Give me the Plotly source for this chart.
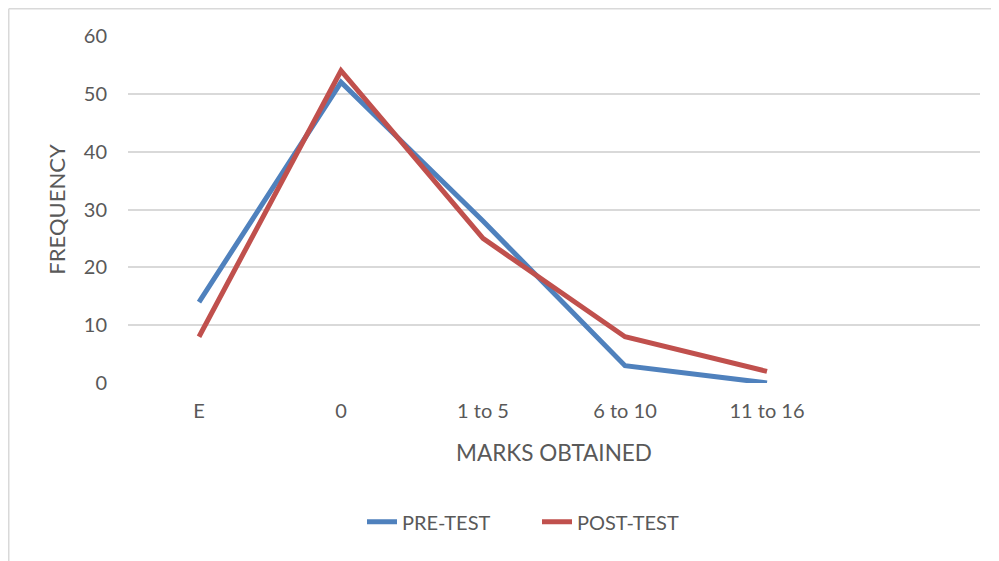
import plotly.graph_objects as go

categories = ["E", "0", "1 to 5", "6 to 10", "11 to 16"]
pre_test = [14, 52, 28, 3, 0]
post_test = [8, 54, 25, 8, 2]

W, H = 999, 561
OFF = 8  # page body margin
L, T = 128 - OFF, 36 - OFF
pw, ph = 852, 347
R, B = W - L - pw, H - T - ph

fnt = "Lato, Calibri, sans-serif"
grey = "#595959"

fig = go.Figure()
fig.add_trace(go.Scatter(x=categories, y=pre_test, name="PRE-TEST", mode="lines",
                         line=dict(color="#4F81BD", width=5)))
fig.add_trace(go.Scatter(x=categories, y=post_test, name="POST-TEST", mode="lines",
                         line=dict(color="#C0504D", width=5)))

fig.update_layout(
    width=W, height=H,
    margin=dict(l=L, r=R, t=T, b=B),
    paper_bgcolor="white", plot_bgcolor="white",
    font=dict(family=fnt, color=grey, size=20),
    showlegend=True,
    legend=dict(orientation="h", x=(362 - 128) / pw, xanchor="left", y=-0.40, yanchor="middle",
                font=dict(size=20, color=grey), entrywidth=130, entrywidthmode="pixels"),
)
fig.update_xaxes(type="category", range=[-0.5, 5.5], showgrid=False, zeroline=False,
                 showline=False, ticks="", ticklabelstandoff=14, tickfont=dict(size=20, color=grey),
                 title=dict(text="MARKS OBTAINED", font=dict(size=22.5, color=grey), standoff=24))
fig.update_yaxes(range=[0, 60], dtick=10, showgrid=True, gridcolor="#D9D9D9", gridwidth=1.5,
                 zeroline=False, showline=False, ticks="", ticklabelstandoff=20,
                 tickfont=dict(size=20, color=grey),
                 title=dict(text="FREQUENCY", font=dict(size=22, color=grey), standoff=12))

# outer chart border (top and left visible in the reference)
x0 = (0.75 - L) / pw
y0 = 1 + (T - 0.75) / ph
fig.add_shape(type="line", xref="paper", yref="paper", x0=x0, x1=(W - L + 5) / pw, y0=y0, y1=y0,
              line=dict(color="#D9D9D9", width=1.5))
fig.add_shape(type="line", xref="paper", yref="paper", x0=x0, x1=x0, y0=y0, y1=-(B + 5) / ph,
              line=dict(color="#D9D9D9", width=1.5))

fig.write_html("out.html")
